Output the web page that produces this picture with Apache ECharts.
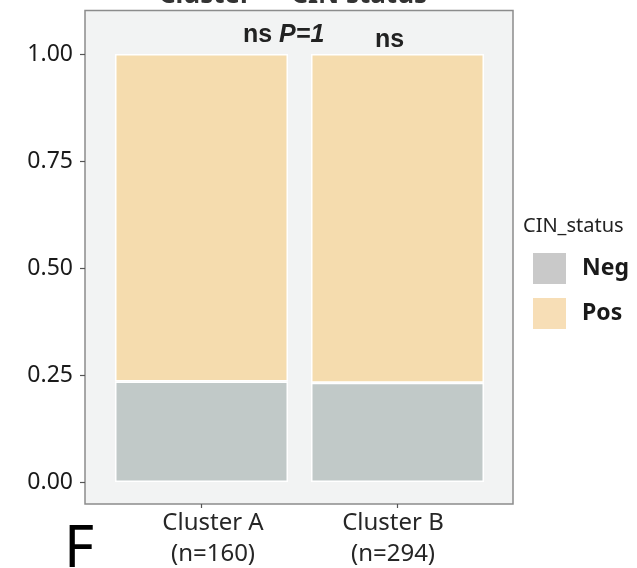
<!DOCTYPE html>
<html>
<head>
<meta charset="utf-8">
<script src="https://cdn.jsdelivr.net/npm/echarts@6/dist/echarts.min.js"></script>
<style>
html,body{margin:0;padding:0;background:#fff;}
#chart{width:637px;height:568px;}
</style>
</head>
<body>
<div id="chart"></div>
<script>
// ---- data ----
const categories = ['Cluster A\n(n=160)', 'Cluster B\n(n=294)'];
const negValues = [0.235, 0.232];
const posValues = [0.765, 0.768];
const seriesNames = ['Neg', 'Pos'];
const yTickValues = [0, 0.25, 0.5, 0.75, 1.0];
const titleText = 'Cluster — CIN status';
const legendTitle = 'CIN_status';
const annotation1 = ['ns ', 'P=1'];
const annotation2 = 'ns';
const panelLetter = 'F';

const FONT = '"Noto Sans", "Open Sans", sans-serif';
const AFONT = '"Liberation Sans", Arial, sans-serif';
const chart = echarts.init(document.getElementById('chart'), null, {renderer: 'canvas'});

const panel = {x: 85, y: 10.5, w: 428, h: 493.5};
const gridLeft = 103.5, gridRight = 141.5, gridTop = 54;
const gridBottom = 568 - (panel.y + panel.h);          // axis at panel bottom
const zeroY = 482;                                       // pixel row of value 0
const yMin = -(panel.y + panel.h - zeroY) / (zeroY - gridTop);

const option = {
  backgroundColor: '#ffffff',
  animation: false,
  grid: {left: gridLeft, right: gridRight, top: gridTop, bottom: gridBottom},
  graphic: [
    {type: 'rect', z: -10, silent: true,
     shape: {x: panel.x, y: panel.y, width: panel.w, height: panel.h},
     style: {fill: '#f2f3f3', stroke: '#8c8c8c', lineWidth: 1.5}},
    {type: 'text', silent: true,
     style: {text: titleText, x: 293, y: 9, align: 'center', verticalAlign: 'bottom',
             font: 'bold 26px ' + FONT, fill: '#333'}},
    {type: 'text', silent: true,
     style: {x: 243, y: 35, verticalAlign: 'middle',
             text: '{a|' + annotation1[0] + '}{b|' + annotation1[1] + '}',
             rich: {
               a: {font: 'bold 25px ' + AFONT, fill: '#222'},
               b: {font: 'italic bold 25px ' + AFONT, fill: '#222'}
             }}},
    {type: 'text', silent: true,
     style: {x: 375, y: 40, verticalAlign: 'middle', text: annotation2,
             font: 'bold 25px ' + AFONT, fill: '#222'}},
    {type: 'text', silent: true,
     style: {x: 523, y: 226, verticalAlign: 'middle', text: legendTitle,
             font: '20px ' + FONT, fill: '#222'}},
    {type: 'text', silent: true,
     style: {x: 64, y: 550, verticalAlign: 'middle', text: panelLetter,
             font: '58px ' + FONT, fill: '#000'}}
  ],
  legend: {
    orient: 'vertical', left: 528, top: 248,
    itemWidth: 33, itemHeight: 31, itemGap: 14,
    icon: 'rect',
    data: [
      {name: seriesNames[0], itemStyle: {color: '#c9c9c9', borderWidth: 0}},
      {name: seriesNames[1], itemStyle: {color: '#f7deb6', borderWidth: 0}}
    ],
    textStyle: {fontFamily: FONT, fontSize: 23, fontWeight: 'bold', color: '#1a1a1a', padding: [0, 0, 0, 11]},
    selectedMode: false
  },
  xAxis: {
    type: 'category', data: categories,
    axisLine: {show: false, onZero: false},
    axisTick: {show: true, alignWithLabel: true, length: 4, lineStyle: {color: '#555', width: 1.2}},
    axisLabel: {
      margin: 4,
      formatter: function (value, idx) {
        return value.split('\n').map(s => '{c' + idx + '|' + s + '}').join('\n');
      },
      rich: {
        c0: {fontFamily: FONT, fontSize: 24, color: '#262626', lineHeight: 31, padding: [0, 0, 0, 23]},
        c1: {fontFamily: FONT, fontSize: 24, color: '#262626', lineHeight: 31, padding: [0, 9, 0, 0]}
      }
    }
  },
  yAxis: {
    type: 'value', min: yMin, max: 1, offset: gridLeft - panel.x,
    axisLine: {show: false},
    axisTick: {show: true, length: 5, customValues: yTickValues, lineStyle: {color: '#555', width: 1.2}},
    splitLine: {show: false},
    axisLabel: {
      margin: 12, fontFamily: FONT, fontSize: 23, color: '#1a1a1a',
      customValues: yTickValues,
      formatter: v => v.toFixed(2)
    }
  },
  series: [
    {name: seriesNames[0], type: 'bar', stack: 'cin', data: negValues, barWidth: 173,
     itemStyle: {color: '#c1c9c8', borderColor: '#ffffff', borderWidth: 1.5}},
    {name: seriesNames[1], type: 'bar', stack: 'cin', data: posValues, barWidth: 173,
     itemStyle: {color: '#f5dcae', borderColor: '#ffffff', borderWidth: 1.5}}
  ]
};
chart.setOption(option);
</script>
</body>
</html>
